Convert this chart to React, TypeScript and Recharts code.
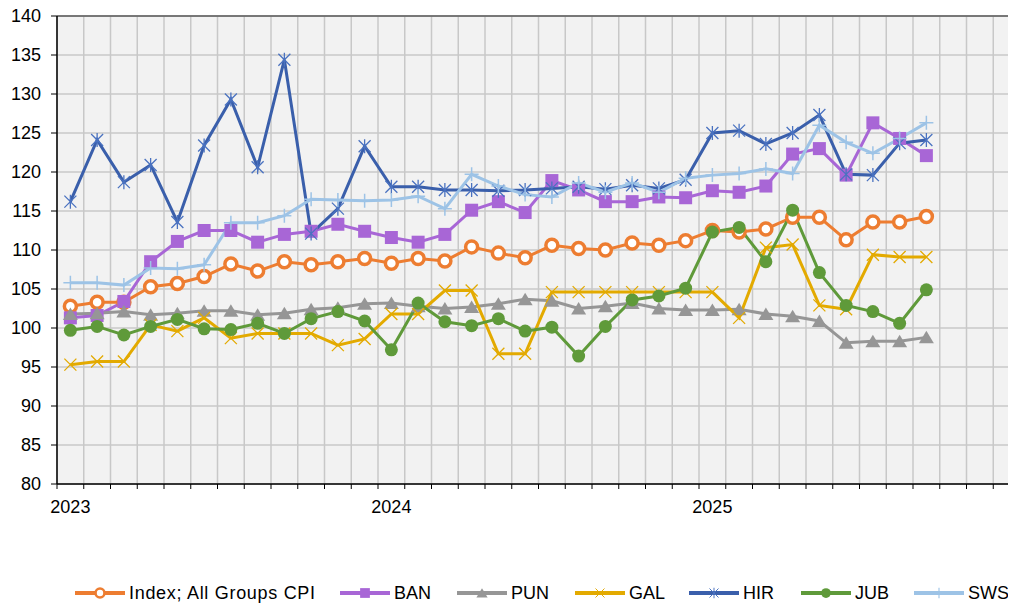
import React from 'react';
import { LineChart, Line, XAxis, YAxis, CartesianGrid, Legend, ReferenceLine } from 'recharts';

// ---- data ----
const monthCount = 36;
const yearLabels = ['2023', '2024', '2025'];
const yearTickIdx = [0, 12, 24];
const yTicks = [80, 85, 90, 95, 100, 105, 110, 115, 120, 125, 130, 135, 140];

const cpi = [102.8, 103.3, 103.3, 105.3, 105.7, 106.6, 108.2, 107.3, 108.5, 108.1, 108.5, 108.9, 108.3, 108.9, 108.6, 110.4, 109.6, 109.0, 110.6, 110.2, 110.0, 110.9, 110.6, 111.2, 112.5, 112.3, 112.7, 114.2, 114.2, 111.3, 113.6, 113.6, 114.3];
const ban = [101.3, 101.6, 103.4, 108.5, 111.1, 112.5, 112.5, 111.0, 112.0, 112.4, 113.3, 112.4, 111.6, 111.0, 112.0, 115.1, 116.2, 114.8, 118.9, 117.7, 116.2, 116.2, 116.8, 116.7, 117.6, 117.4, 118.2, 122.3, 123.0, 119.6, 126.3, 124.3, 122.1];
const pun = [101.8, 101.9, 102.1, 101.7, 101.9, 102.2, 102.2, 101.7, 101.9, 102.4, 102.6, 103.1, 103.2, 102.8, 102.5, 102.7, 103.1, 103.7, 103.5, 102.5, 102.8, 103.2, 102.5, 102.3, 102.3, 102.4, 101.8, 101.5, 100.9, 98.1, 98.3, 98.3, 98.8];
const gal = [95.3, 95.7, 95.7, 100.4, 99.6, 101.3, 98.7, 99.3, 99.3, 99.3, 97.8, 98.6, 101.8, 101.8, 104.8, 104.8, 96.7, 96.7, 104.6, 104.6, 104.6, 104.6, 104.6, 104.6, 104.6, 101.3, 110.3, 110.7, 102.9, 102.4, 109.4, 109.1, 109.1];
const hir = [116.2, 124.1, 118.7, 120.9, 113.6, 123.4, 129.3, 120.6, 134.4, 112.1, 115.3, 123.3, 118.1, 118.1, 117.7, 117.7, 117.6, 117.7, 117.9, 118.1, 117.8, 118.3, 117.9, 119.0, 125.0, 125.3, 123.6, 125.0, 127.3, 119.7, 119.6, 123.7, 124.1];
const jub = [99.7, 100.2, 99.1, 100.2, 101.1, 99.9, 99.8, 100.6, 99.3, 101.2, 102.1, 100.9, 97.2, 103.2, 100.8, 100.3, 101.2, 99.6, 100.1, 96.4, 100.2, 103.6, 104.1, 105.1, 112.3, 112.9, 108.5, 115.1, 107.1, 102.9, 102.1, 100.6, 104.9];
const sws = [105.8, 105.8, 105.5, 107.7, 107.6, 108.1, 113.5, 113.5, 114.4, 116.5, 116.4, 116.3, 116.4, 116.9, 115.3, 119.7, 118.2, 117.1, 116.8, 118.6, 117.4, 118.6, 117.4, 119.2, 119.6, 119.8, 120.4, 119.8, 126.0, 123.8, 122.4, 124.3, 126.3];

const seriesNames = ['Index; All Groups CPI', 'BAN', 'PUN', 'GAL', 'HIR', 'JUB', 'SWS'];
const seriesKeys = ['cpi', 'ban', 'pun', 'gal', 'hir', 'jub', 'sws'];
const seriesValues = [cpi, ban, pun, gal, hir, jub, sws];

// ---- styles ----
const seriesColors = ['#ED7D31', '#A866D6', '#969696', '#E3AA00', '#3A5FAB', '#5F9A3A', '#9DC3E6'];
const markerColors = ['#ED7D31', '#A866D6', '#969696', '#E3AA00', '#4A72C0', '#5F9A3A', '#9DC3E6'];
const markerKinds = ['ring', 'square', 'triangle', 'x', 'star', 'dot', 'plus'];
const legendItemWidths = [265, 117, 118, 114, 112, 113, 100];

const data = Array.from({ length: cpi.length }, (_, i) => {
  const row: any = { idx: i };
  seriesKeys.forEach((k, s) => { row[k] = seriesValues[s][i]; });
  return row;
});
const boundaries = Array.from({ length: monthCount + 1 }, (_, i) => i - 0.5);

function Marker({ kind, color, cx, cy }: any) {
  switch (kind) {
    case 'ring':
      return <circle cx={cx} cy={cy} r={6} fill="#fff" stroke={color} strokeWidth={3.5} />;
    case 'square':
      return <rect x={cx - 6.5} y={cy - 6.5} width={13} height={13} fill={color} />;
    case 'triangle':
      return <path d={`M${cx},${cy - 6.5} L${cx + 7.5},${cy + 6} L${cx - 7.5},${cy + 6} Z`} fill={color} />;
    case 'x':
      return <path d={`M${cx - 6},${cy - 6} L${cx + 6},${cy + 6} M${cx + 6},${cy - 6} L${cx - 6},${cy + 6}`} stroke={color} strokeWidth={1.3} fill="none" />;
    case 'star':
      return <path d={`M${cx - 6},${cy - 6} L${cx + 6},${cy + 6} M${cx + 6},${cy - 6} L${cx - 6},${cy + 6} M${cx},${cy - 7} L${cx},${cy + 7}`} stroke={color} strokeWidth={1.3} fill="none" />;
    case 'dot':
      return <circle cx={cx} cy={cy} r={6.5} fill={color} />;
    case 'plus':
      return <path d={`M${cx - 7},${cy} L${cx + 7},${cy} M${cx},${cy - 7} L${cx},${cy + 7}`} stroke={color} strokeWidth={1.5} fill="none" />;
    default:
      return null;
  }
}

const makeDot = (s: number) => (props: any) => {
  const { cx, cy, index } = props;
  if (cx == null || cy == null) return <g key={`d${s}-${index}`} />;
  return (
    <g key={`d${s}-${index}`}>
      <Marker kind={markerKinds[s]} color={markerColors[s]} cx={cx} cy={cy} />
    </g>
  );
};

// tick mark that crosses the axis (drawn at the tick line position)
const CrossTick = (props: any) => {
  const { x, y } = props;
  // y here is the text anchor position; draw nothing textual
  return <g key={`ct-${x}`} />;
};

const LegendContent = () => (
  <div style={{ display: 'flex', alignItems: 'center', paddingLeft: 67, height: 26, fontSize: 18, color: '#000', fontFamily: '"Liberation Sans", Arial, sans-serif' }}>
    {seriesNames.map((name, s) => (
      <div key={name} style={{ display: 'flex', alignItems: 'center', width: legendItemWidths[s], flex: 'none' }}>
        <svg width={50} height={20} style={{ display: 'block' }}>
          <line x1={0} x2={50} y1={10} y2={10} stroke={seriesColors[s]} strokeWidth={4} />
          <g transform="translate(25,10) scale(0.75) translate(-25,-10)">
            <Marker kind={markerKinds[s]} color={markerColors[s]} cx={25} cy={10} />
          </g>
        </svg>
        <span style={{ marginLeft: 4, whiteSpace: 'nowrap', letterSpacing: s === 0 ? 0.7 : 0 }}>{name}</span>
      </div>
    ))}
  </div>
);

export default function App() {
  return (
    <div style={{ width: 1008, height: 599, overflow: 'hidden' }}>
      <LineChart
        width={1012}
        height={599}
        data={data}
        margin={{ top: 8, right: 0, left: 0, bottom: 51 }}
        style={{ fontFamily: '"Liberation Sans", Arial, sans-serif' }}
      >
        <CartesianGrid stroke="#C8C8C8" strokeWidth={1.5} fill="#F2F2F2" />
        <XAxis
          type="number"
          dataKey="idx"
          domain={[-0.5, monthCount - 0.5]}
          ticks={boundaries}
          interval={0}
          tick={CrossTick}
          tickSize={5}
          tickMargin={0}
          height={6}
          allowDataOverflow
          axisLine={{ stroke: '#000', strokeWidth: 1.5 }}
          tickLine={{ stroke: '#000', strokeWidth: 1 }}
        />
        <XAxis
          xAxisId="label"
          type="number"
          dataKey="idx"
          domain={[-0.5, monthCount - 0.5]}
          ticks={yearTickIdx}
          interval={0}
          allowDataOverflow
          tickFormatter={(v: number) => yearLabels[yearTickIdx.indexOf(v)]}
          axisLine={false}
          tickLine={false}
          tickSize={0}
          tickMargin={10}
          height={40}
          tick={{ fill: '#000', fontSize: 18 }}
        />
        <YAxis
          type="number"
          domain={[80, 140]}
          ticks={yTicks}
          interval={0}
          width={49}
          tickSize={6}
          tickMargin={10}
          axisLine={{ stroke: '#000', strokeWidth: 1.5 }}
          tickLine={{ stroke: '#000', strokeWidth: 1 }}
          tick={{ fill: '#000', fontSize: 18 }}
        />
        <ReferenceLine xAxisId="label" y={140} stroke="#595959" strokeWidth={1.5} />
        {seriesKeys.map((k, s) => (
          <Line
            key={k}
            xAxisId="label"
            type="linear"
            dataKey={k}
            name={seriesNames[s]}
            stroke={seriesColors[s]}
            strokeWidth={3}
            dot={makeDot(s)}
            activeDot={false}
            isAnimationActive={false}
          />
        ))}
        <Legend
          verticalAlign="bottom"
          content={<LegendContent />}
          wrapperStyle={{ left: 0, top: 572, height: 26, width: 1012 }}
        />
      </LineChart>
    </div>
  );
}
